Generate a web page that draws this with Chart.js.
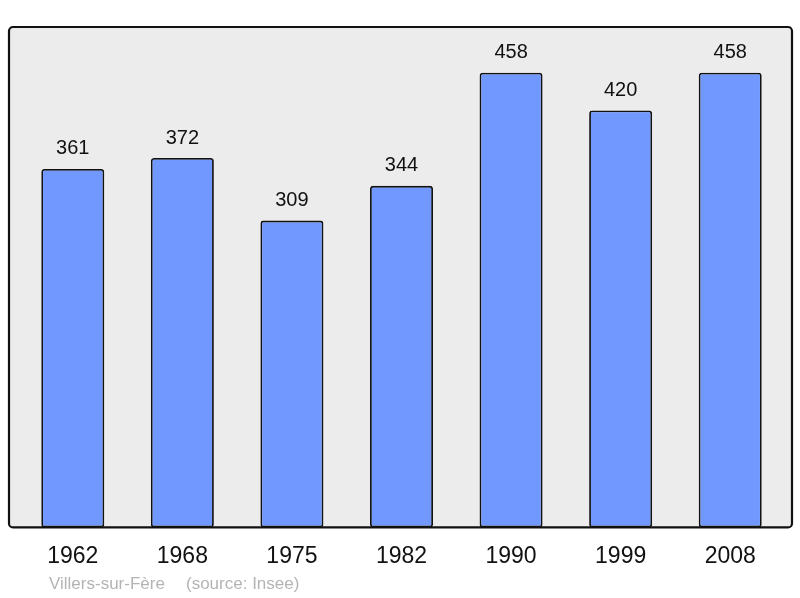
<!DOCTYPE html>
<html><head><meta charset="utf-8">
<script src="https://cdn.jsdelivr.net/npm/chart.js@4"></script>
<style>html,body{margin:0;padding:0;background:#fff}#c{display:block}</style>
</head><body>
<canvas id="c" width="800" height="598"></canvas>
<script>
const years = ["1962","1968","1975","1982","1990","1999","2008"];
const population = [361,372,309,344,458,420,458];
const sourceName = "Villers-sur-Fère";
const sourceNote = "(source: Insee)";

const framePlugin = {
  id: 'frame',
  beforeDraw(chart) {
    const {ctx, chartArea: a} = chart;
    const l = a.left - 9, r = a.right + 7, t = a.top, b = a.bottom;
    ctx.save();
    ctx.beginPath();
    ctx.roundRect(l, t, r - l, b - t, 4);
    ctx.fillStyle = '#ececec';
    ctx.fill();
    ctx.lineWidth = 2.2;
    ctx.strokeStyle = '#111';
    ctx.stroke();
    ctx.restore();
  },
  afterDatasetsDraw(chart) {
    const {ctx} = chart;
    const meta = chart.getDatasetMeta(0);
    ctx.save();
    ctx.font = '20px "Liberation Sans", Arial, sans-serif';
    ctx.fillStyle = '#111';
    ctx.textAlign = 'center';
    ctx.textBaseline = 'middle';
    meta.data.forEach((bar, i) => {
      ctx.fillText(String(population[i]), bar.x, bar.y - 20);
    });
    ctx.font = '17px "Liberation Sans", Arial, sans-serif';
    ctx.fillStyle = '#b4b4b4';
    ctx.textAlign = 'left';
    ctx.fillText(sourceName, 49, 584);
    ctx.fillText(sourceNote, 186, 584);
    ctx.restore();
  }
};

new Chart(document.getElementById('c'), {
  type: 'bar',
  data: {
    labels: years,
    datasets: [{
      data: population,
      backgroundColor: '#7098ff',
      borderColor: '#111',
      borderWidth: 1.8,
      borderRadius: 3,
      borderSkipped: false,
      categoryPercentage: 1,
      barPercentage: 0.575
    }]
  },
  options: {
    responsive: false,
    animation: false,
    layout: { padding: { left: 18, right: 15, top: 27, bottom: 21 } },
    plugins: { legend: { display: false }, tooltip: { enabled: false } },
    scales: {
      x: {
        offset: true,
        grid: { display: false },
        border: { display: false },
        ticks: { color: '#111', padding: 7, font: { size: 23, family: '"Liberation Sans", Arial, sans-serif' } }
      },
      y: { display: false, min: 0, max: 504 }
    }
  },
  plugins: [framePlugin]
});
</script>
</body></html>
